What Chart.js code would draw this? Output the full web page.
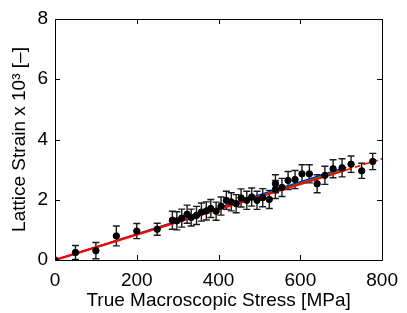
<!DOCTYPE html>
<html>
<head>
<meta charset="utf-8">
<script src="https://cdn.jsdelivr.net/npm/chart.js@4.4.1/dist/chart.umd.min.js"></script>
<style>
html,body{margin:0;padding:0;background:#fff;}
#wrap{width:407px;height:313px;position:relative;}
</style>
</head>
<body>
<div id="wrap"><canvas id="c" width="407" height="313"></canvas></div>
<script>
// ---- data ----
const stress = [0, 50, 100, 150, 200, 250, 287, 298, 310, 323, 333, 346, 358, 370, 381, 394, 406, 419, 431, 443, 455, 469, 481, 494, 508, 524, 539, 539, 555, 570, 587, 604, 622, 641, 660, 680, 702, 724, 750, 777];
const strain = [0, 0.25, 0.31, 0.80, 0.96, 1.02, 1.32, 1.30, 1.39, 1.52, 1.41, 1.48, 1.59, 1.63, 1.71, 1.62, 1.79, 1.98, 1.93, 1.87, 2.06, 1.98, 2.09, 1.98, 2.07, 2.01, 2.53, 2.34, 2.41, 2.64, 2.67, 2.86, 2.86, 2.53, 2.81, 3.03, 3.06, 3.18, 2.96, 3.27];
const strainErr = [0, 0.23, 0.27, 0.33, 0.25, 0.2, 0.3, 0.3, 0.3, 0.3, 0.28, 0.3, 0.3, 0.3, 0.3, 0.3, 0.3, 0.3, 0.3, 0.3, 0.3, 0.3, 0.3, 0.3, 0.3, 0.3, 0.3, 0.3, 0.3, 0.3, 0.3, 0.3, 0.3, 0.3, 0.3, 0.3, 0.3, 0.27, 0.25, 0.27];
const redFitX = [0, 712];
const redFitY = [0, 2.99];
const redDashX = [712, 800];
const redDashY = [2.99, 3.36];
const greenFitX = [0, 712];
const greenFitY = [0, 3.04];
const blueFitX = [0, 712];
const blueFitY = [0, 3.08];
const xTicks = [0, 200, 400, 600, 800];
const yTicks = [0, 2, 4, 6, 8];

const FONT = "'Liberation Sans', Arial, Helvetica, sans-serif";
const toXY = (xs, ys) => xs.map((x, i) => ({x: x, y: ys[i]}));

const errorBars = {
  id: 'errorBars',
  beforeDatasetsDraw(chart) {
    const ctx = chart.ctx, xs = chart.scales.x, ys = chart.scales.y;
    ctx.save();
    ctx.strokeStyle = '#1a1a1a';
    ctx.lineWidth = 1.4;
    for (let i = 0; i < stress.length; i++) {
      const e = strainErr[i];
      if (!e) continue;
      const px = xs.getPixelForValue(stress[i]);
      const p1 = ys.getPixelForValue(strain[i] - e);
      const p2 = ys.getPixelForValue(strain[i] + e);
      ctx.beginPath();
      ctx.moveTo(px, p1); ctx.lineTo(px, p2);
      ctx.moveTo(px - 3.5, p1); ctx.lineTo(px + 3.5, p1);
      ctx.moveTo(px - 3.5, p2); ctx.lineTo(px + 3.5, p2);
      ctx.stroke();
    }
    ctx.restore();
  }
};

const frame = {
  id: 'frame',
  afterDatasetsDraw(chart) {
    const ctx = chart.ctx, a = chart.chartArea, xs = chart.scales.x, ys = chart.scales.y;
    ctx.save();
    ctx.strokeStyle = '#000';
    ctx.lineWidth = 1;
    ctx.beginPath();
    ctx.rect(Math.round(a.left) + 0.5, Math.round(a.top) + 0.5, Math.round(a.right - a.left), Math.round(a.bottom - a.top));
    const L = 5;
    xTicks.forEach(v => {
      const px = Math.round(xs.getPixelForValue(v)) + 0.5;
      ctx.moveTo(px, a.bottom); ctx.lineTo(px, a.bottom - L);
      ctx.moveTo(px, a.top); ctx.lineTo(px, a.top + L);
    });
    yTicks.forEach(v => {
      const py = Math.round(ys.getPixelForValue(v)) + 0.5;
      ctx.moveTo(a.left, py); ctx.lineTo(a.left + L, py);
      ctx.moveTo(a.right, py); ctx.lineTo(a.right - L, py);
    });
    ctx.stroke();
    ctx.restore();
  }
};

new Chart(document.getElementById('c'), {
  type: 'scatter',
  data: {
    datasets: [
      {label: 'data', data: toXY(stress, strain), backgroundColor: '#000', borderColor: '#000', pointRadius: 3.2, pointHoverRadius: 3.2, showLine: false},
      {label: 'redfit', data: toXY(redFitX, redFitY), showLine: true, borderColor: '#ff0000', borderWidth: 2.2, pointRadius: 0},
      {label: 'reddash', data: toXY(redDashX, redDashY), showLine: true, borderColor: '#ff0000', borderWidth: 1.6, borderDash: [6, 3], pointRadius: 0},
      {label: 'green', data: toXY(greenFitX, greenFitY), showLine: true, borderColor: '#00a000', borderWidth: 1.5, pointRadius: 0},
      {label: 'blue', data: toXY(blueFitX, blueFitY), showLine: true, borderColor: '#0000ff', borderWidth: 1.5, pointRadius: 0}
    ]
  },
  options: {
    responsive: false,
    animation: false,
    events: [],
    layout: {padding: {top: 19, right: 24, left: 0, bottom: 0}},
    plugins: {legend: {display: false}, tooltip: {enabled: false}},
    scales: {
      x: {
        type: 'linear', min: 0, max: 800,
        afterFit: s => { s.height = 53; },
        afterBuildTicks: s => { s.ticks = xTicks.map(v => ({value: v})); },
        grid: {display: false, drawTicks: false},
        border: {display: false},
        ticks: {color: '#000', font: {family: FONT, size: 19}, padding: 9, maxRotation: 0, autoSkip: false},
        title: {display: true, text: 'True Macroscopic Stress [MPa]', color: '#000', font: {family: FONT, size: 19}, padding: {top: 0, bottom: 1}}
      },
      y: {
        type: 'linear', min: 0, max: 8,
        afterFit: s => { s.width = 55; },
        afterBuildTicks: s => { s.ticks = yTicks.map(v => ({value: v})); },
        grid: {display: false, drawTicks: false},
        border: {display: false},
        ticks: {color: '#000', font: {family: FONT, size: 19}, padding: 7, autoSkip: false},
        title: {display: true, text: 'Lattice Strain x 10³ [–]', color: '#000', font: {family: FONT, size: 19}, padding: {top: 8, bottom: 0}}
      }
    }
  },
  plugins: [errorBars, frame]
});
</script>
</body>
</html>
